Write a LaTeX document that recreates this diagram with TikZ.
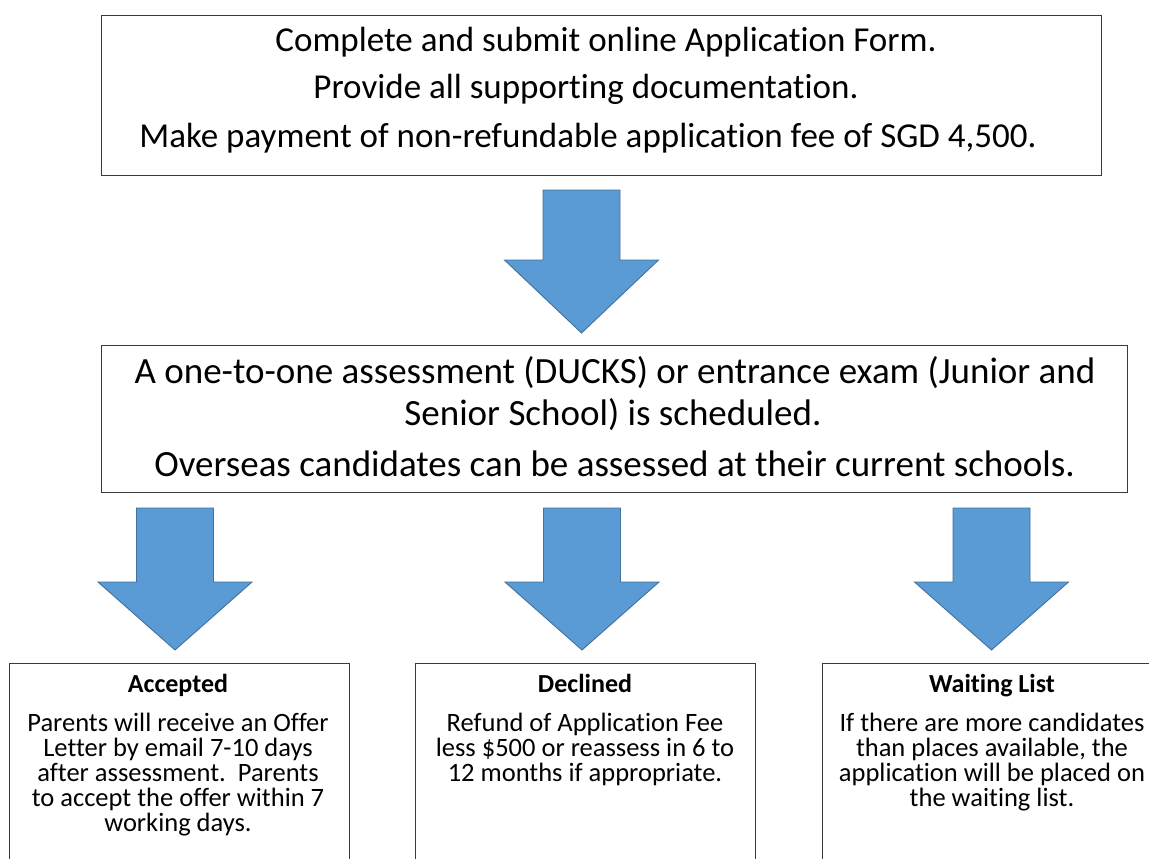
\documentclass[tikz,border=0pt]{standalone}
\usepackage{fontspec}
\setmainfont{Carlito}[Ligatures=NoCommon]
\definecolor{arrfill}{HTML}{5B9BD5}
\definecolor{arrline}{HTML}{41719C}
\definecolor{boxline}{HTML}{3A3A3A}
\newcommand\blockarrow[5]{% name, x, top, wing, tip
  \coordinate (#1) at (#2,#3);
  \draw[blockarrow] ({#2-38.5},#3) -- ({#2+38.5},#3) -- ({#2+38.5},#4) -- ({#2+77},#4)
     -- (#2,#5) -- ({#2-77},#4) -- ({#2-38.5},#4) -- cycle;}
\begin{document}
\begin{tikzpicture}[x=1pt,y=-1pt,
  box/.style={draw=boxline,line width=1.3pt,fill=none,inner sep=0pt,anchor=north west},
  blockarrow/.style={fill=arrfill,draw=arrline,line width=0.9pt,line join=miter},
  big/.style={font=\fontsize{35}{40}\selectfont,anchor=base,inner sep=0pt},
  mid/.style={font=\fontsize{37}{42}\selectfont,anchor=base,inner sep=0pt},
  ttl/.style={font=\fontsize{26}{30}\selectfont\bfseries,anchor=base,inner sep=0pt},
  body/.style={font=\fontsize{26.5}{30}\selectfont,anchor=base,inner sep=0pt}]
\clip (0,0) rectangle (1149,859);
\fill[white] (0,0) rectangle (1149,859);

% top box
\node[box,minimum width=1000pt,minimum height=160pt] (apply) at (101,15) {};
\node[big] (t1) at (606,52) {Complete and submit online Application Form.};
\node[big] (t2) at (586,99) {Provide all supporting documentation.};
\node[big] (t3) at (588,147) {Make payment of non-refundable application fee of SGD 4,500.};

\blockarrow{a0}{581.5}{190}{260}{333}

% middle box
\node[box,minimum width=1026pt,minimum height=147pt] (assess) at (101,345) {};
\node[mid] (m1) at (615,383) {A one-to-one assessment (DUCKS) or entrance exam (Junior and};
\node[mid] (m2) at (613,425) {Senior School) is scheduled.};
\node[mid] (m3) at (614.5,476) {Overseas candidates can be assessed at their current schools.};

\blockarrow{a1}{175}{508}{582}{650}
\blockarrow{a2}{582}{508}{582}{650}
\blockarrow{a3}{991.5}{508}{582}{650}

% bottom boxes
\node[box,minimum width=340pt,minimum height=260pt] (acc) at (9,663) {};
\node[box,minimum width=340pt,minimum height=260pt] (dec) at (415,663) {};
\node[box,minimum width=340pt,minimum height=260pt] (wait) at (822,663) {};

\node[ttl] (acct) at (178,692) {Accepted};
\node[body] at (178,731) {Parents will receive an Offer};
\node[body] at (178,756) {Letter by email 7-10 days};
\node[body] at (178,781) {after assessment.\ \ Parents};
\node[body] at (178,806) {to accept the offer within 7};
\node[body] at (178,831) {working days.};

\node[ttl] (dect) at (585,692) {Declined};
\node[body] at (585,731) {Refund of Application Fee};
\node[body] at (585,756) {less \$500 or reassess in 6 to};
\node[body] at (585,781) {12 months if appropriate.};

\node[ttl] (waitt) at (992,692) {Waiting List};
\node[body] at (992,731) {If there are more candidates};
\node[body] at (992,756) {than places available, the};
\node[body] at (992,781) {application will be placed on};
\node[body] at (992,806) {the waiting list.};
\end{tikzpicture}
\end{document}
